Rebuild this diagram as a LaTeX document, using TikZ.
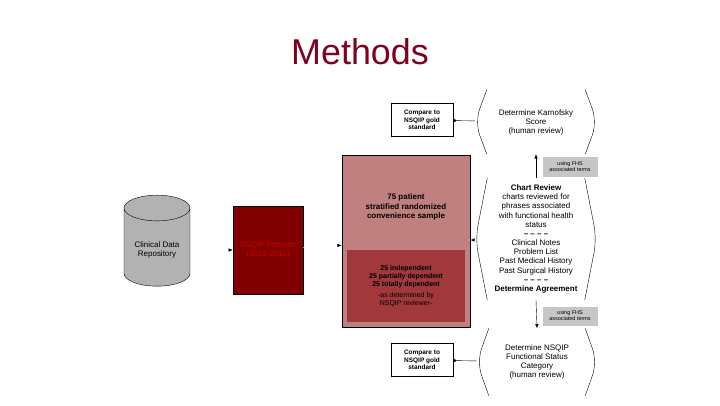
\documentclass[tikz,border=0pt]{standalone}
\usepackage{fontspec}
\setmainfont{Liberation Sans}
\usetikzlibrary{arrows.meta,shapes,positioning,calc}
\definecolor{titlered}{RGB}{128,0,32}
\definecolor{darkred}{RGB}{128,0,0}
\definecolor{pinkred}{RGB}{192,128,128}
\definecolor{midred}{RGB}{160,56,60}
\tikzset{
    flow/.style={-{Latex[length=1.5mm, width=1.2mm]}, thin},
    faint/.style={-{Latex[length=1.5mm, width=1.2mm, black]}, draw=white, thin},
    box/.style={draw, thick, fill=white, align=center, font=\fontsize{6.5}{7.5}\selectfont\bfseries},
    tag/.style={fill=gray!45, align=center, font=\fontsize{5.5}{6}\selectfont, inner sep=1pt},
    bubble/.style={align=center, font=\fontsize{8}{9}\selectfont, inner sep=2pt},
    side/.style={thin, rounded corners=14pt}
}
\begin{document}
\begin{tikzpicture}[x=1bp, y=-1bp]
\useasboundingbox (0,0) rectangle (720,405);
\node[text=titlered, font=\fontsize{36}{38}\selectfont] (title) at (360,52) {Methods};

\node[cylinder, shape border rotate=90, draw, fill=gray!60, minimum width=66bp, minimum height=91bp, aspect=0.5, align=center, font=\fontsize{8}{9}\selectfont] (cdr) at (157,250) {Clinical Data\\Repository};
\node[fill=darkred, draw, minimum width=70bp, minimum height=88bp, align=center, text=red!55!darkred, font=\fontsize{8}{9}\selectfont] (nsqip) at (268,250) {NSQIP Patients\\(2013-2015)};
\node[fill=pinkred, draw, thick, minimum width=128bp, minimum height=172bp] (sample) at (406,241) {};
\node[font=\fontsize{8}{9.5}\selectfont\bfseries, align=center] (stext) at (406,207) {75 patient\\stratified randomized\\convenience sample};
\node[fill=midred, minimum width=118bp, minimum height=72bp, align=center, font=\fontsize{7}{8}\selectfont] (strata) at (406,286) {\textbf{25 independent}\\\textbf{25 partially dependent}\\\textbf{25 totally dependent}\\[3pt]-as determined by\\NSQIP reviewer-};

\node[box, minimum width=62bp, minimum height=33bp] (cmp1) at (422,120) {Compare to\\NSQIP gold\\standard};
\node[box, minimum width=62bp, minimum height=33bp] (cmp2) at (422,360) {Compare to\\NSQIP gold\\standard};

\node[bubble, minimum width=122bp, minimum height=64bp] (karn) at (536,122) {Determine Karnofsky\\Score\\(human review)};
\node[bubble, minimum width=121bp, minimum height=122bp, font=\fontsize{8}{9.2}\selectfont] (chart) at (536,239) {\textbf{Chart Review}\\charts reviewed for\\phrases associated\\with functional health\\status\\\textbf{-- -- -- --}\\Clinical Notes\\Problem List\\Past Medical History\\Past Surgical History\\\textbf{-- -- -- --}\\\textbf{Determine Agreement}};
\node[bubble, minimum width=120bp, minimum height=67bp] (fsc) at (537,362) {Determine NSQIP\\Functional Status\\Category\\(human review)};

\node[tag, minimum width=55bp, minimum height=20bp] (fhs1) at (570,167) {using FHS\\associated terms};
\node[tag, minimum width=55bp, minimum height=19bp] (fhs2) at (570,316) {using FHS\\associated terms};

% bracket outlines
\foreach \n in {karn, chart, fsc} {
  \draw[side] ($(\n.north west)+(12,0)$) -- ($(\n.west)+(0,0)$) -- ($(\n.south west)+(12,0)$);
  \draw[side] ($(\n.north east)+(-12,0)$) -- ($(\n.east)+(0,0)$) -- ($(\n.south east)+(-12,0)$);
}

\draw[faint] (cdr) -- (nsqip);
\draw[faint] (nsqip) -- (sample);
\draw[faint] (chart) -- (sample);
\draw[flow] (chart.north) -- (karn.south);
\draw[flow] (chart.south) -- (fsc.north);
\draw[-{Circle[length=1mm]}] (karn) -- (cmp1);
\draw[-{Circle[length=1mm]}] (fsc) -- (cmp2);
\end{tikzpicture}
\end{document}
